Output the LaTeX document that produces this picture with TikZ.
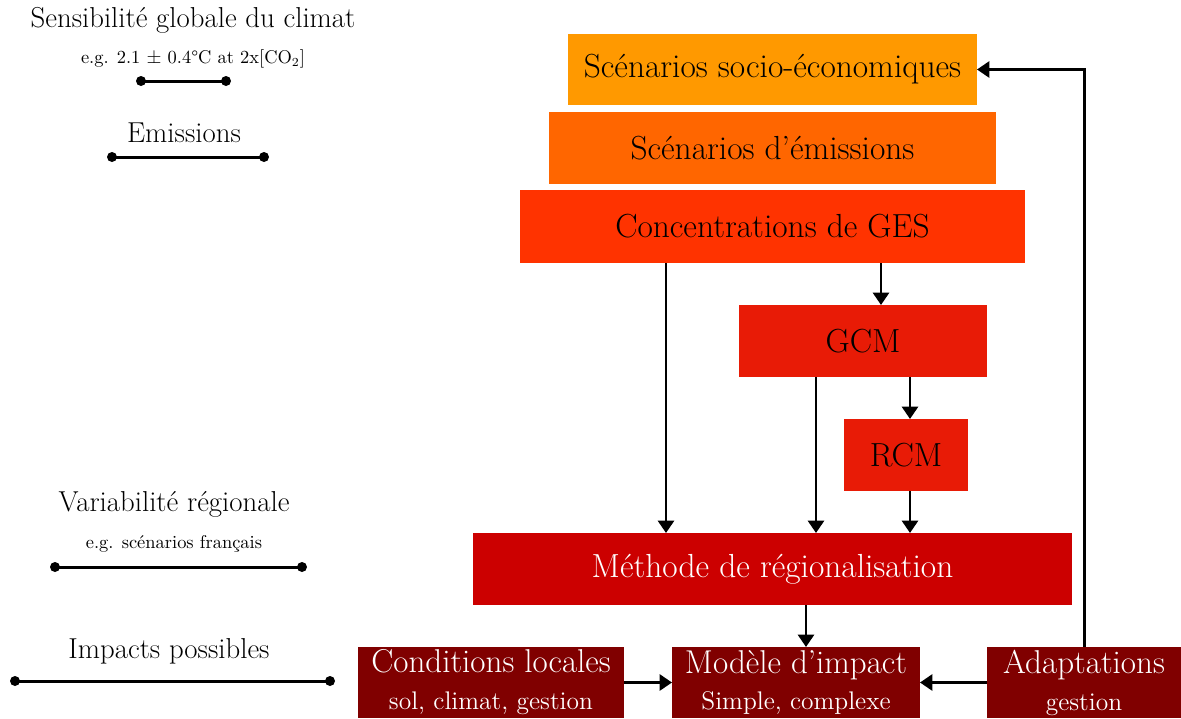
\documentclass[tikz,border=0pt]{standalone}
\usetikzlibrary{arrows.meta}
\definecolor{cSocio}{RGB}{255,153,0}
\definecolor{cEmis}{RGB}{255,102,0}
\definecolor{cConc}{RGB}{255,51,0}
\definecolor{cGcm}{RGB}{232,27,6}
\definecolor{cMeth}{RGB}{204,0,0}
\definecolor{cDark}{RGB}{128,0,0}
\newcommand{\subline}{\fontsize{14.5}{16}\selectfont}
\tikzset{
  box/.style={rectangle, inner sep=0pt, outer sep=0pt, align=center,
    font=\fontsize{19}{22}\selectfont},
  darkbox/.style={box, fill=cDark, text=white, minimum height=1.42cm,
    font=\fontsize{18.8}{20}\selectfont},
  arr/.style={line width=1.7pt, -{Triangle[length=7pt,width=9pt]}},
  scale line/.style={line width=1.7pt},
  enddot/.style={fill=black, draw=none},
  lbl/.style={inner sep=0pt, font=\fontsize{16.4}{19}\selectfont},
  sub/.style={inner sep=0pt, font=\fontsize{10.5}{12}\selectfont},
}
\begin{document}
\begin{tikzpicture}[x=0.02cm,y=-0.02cm]
\useasboundingbox (0,0) rectangle (1181,718);
% boxes
\node[box, fill=cSocio, minimum width=8.18cm, minimum height=1.42cm] (socio) at (772.5,69.5) {Scénarios socio-économiques};
\node[box, fill=cEmis, minimum width=8.94cm, minimum height=1.44cm] (emis) at (772.5,148) {Scénarios d’émissions};
\node[box, fill=cConc, minimum width=10.1cm, minimum height=1.46cm] (conc) at (772.5,226.5) {Concentrations de GES};
\node[box, fill=cGcm, minimum width=4.96cm, minimum height=1.44cm] (gcm) at (863,341) {GCM};
\node[box, fill=cGcm, minimum width=2.48cm, minimum height=1.44cm] (rcm) at (906,455) {RCM};
\node[box, fill=cMeth, text=white, minimum width=11.98cm, minimum height=1.44cm] (meth) at (772.5,569) {Méthode de régionalisation};
\node[darkbox, minimum width=5.32cm] (cond) at (491,682.5) {Conditions locales\\[1pt]{\subline sol, climat, gestion}};
\node[darkbox, minimum width=4.96cm] (mod) at (796,682.5) {Modèle d’impact\\[1pt]{\subline Simple, complexe}};
\node[darkbox, minimum width=3.88cm] (adapt) at (1084,682.5) {Adaptations\\[1pt]{\subline gestion}};
% x positions of vertical connectors
\coordinate (xa) at (666,0);
\coordinate (xb) at (881,0);
\coordinate (xc) at (816,0);
\coordinate (xd) at (910,0);
\coordinate (xe) at (806,0);
\draw[arr] (conc.south -| xa) -- (meth.north -| xa);
\draw[arr] (conc.south -| xb) -- (gcm.north -| xb);
\draw[arr] (gcm.south -| xc) -- (meth.north -| xc);
\draw[arr] (gcm.south -| xd) -- (rcm.north -| xd);
\draw[arr] (rcm.south -| xd) -- (meth.north -| xd);
\draw[arr] (meth.south -| xe) -- (mod.north -| xe);
\draw[arr] (cond.east) -- (mod.west);
\draw[arr] (adapt.west) -- (mod.east);
\draw[arr] (adapt.north) |- (socio.east);
% left scale
\node[lbl] (sens) at (193,20) {Sensibilité globale du climat};
\node[sub] (sensx) at (193,59) {e.g. 2.1 $\pm$ 0.4°C at 2x[CO$_2$]};
\coordinate (s1) at (141,81); \coordinate (s2) at (226,81);
\draw[scale line] (s1) -- (s2);
\fill[enddot] (s1) circle (5); \fill[enddot] (s2) circle (5);
\node[lbl] (emi) at (184,133) {Emissions};
\coordinate (e1) at (112,157); \coordinate (e2) at (264,157);
\draw[scale line] (e1) -- (e2);
\fill[enddot] (e1) circle (5); \fill[enddot] (e2) circle (5);
\node[lbl] (var) at (174,504) {Variabilité régionale};
\node[sub] (varx) at (174,544) {e.g. scénarios français};
\coordinate (v1) at (55,567); \coordinate (v2) at (302,567);
\draw[scale line] (v1) -- (v2);
\fill[enddot] (v1) circle (5); \fill[enddot] (v2) circle (5);
\node[lbl] (imp) at (169,651) {Impacts possibles};
\coordinate (i1) at (15,681); \coordinate (i2) at (330,681);
\draw[scale line] (i1) -- (i2);
\fill[enddot] (i1) circle (5); \fill[enddot] (i2) circle (5);
\end{tikzpicture}
\end{document}
